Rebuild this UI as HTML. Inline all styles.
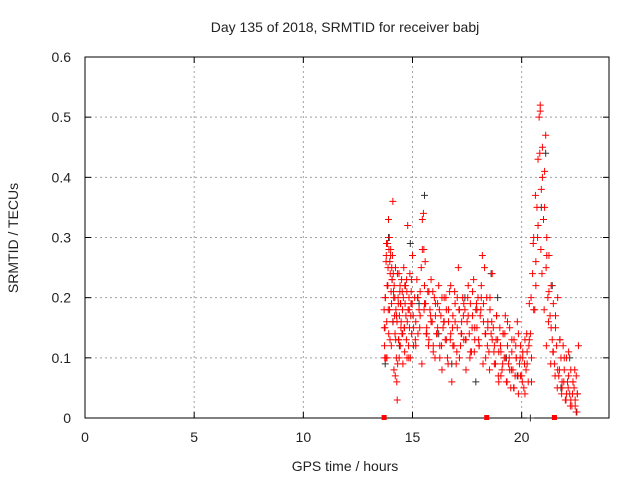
<!DOCTYPE html>
<html><head><meta charset="utf-8"><style>
body{margin:0;background:#fff}
svg text{font-family:"Liberation Sans",sans-serif;font-size:14px;fill:#222}
</style></head><body>
<svg id="c" width="640" height="480" xmlns="http://www.w3.org/2000/svg"></svg>
<script>
const xTicks=[0,5,10,15,20];
const yTicks=[0,0.1,0.2,0.3,0.4,0.5,0.6];
const yTickLabels=["0","0.1","0.2","0.3","0.4","0.5","0.6"];
const redPtsA=[[13.7,0.18],[13.72,0.12],[13.74,0.15],[13.76,0.2],[13.78,0.1],[13.8,0.27],[13.82,0.16],[13.84,0.22],[13.86,0.29],[13.88,0.25],[13.9,0.33],[13.92,0.28],[13.94,0.3],[13.96,0.26],[13.98,0.24],[14.0,0.28],[14.02,0.21],[14.04,0.19],[14.06,0.23],[14.08,0.27],[14.1,0.36],[14.12,0.24],[14.14,0.2],[14.16,0.22],[14.18,0.17],[14.2,0.14],[14.22,0.25],[14.24,0.18],[14.26,0.1],[14.28,0.06],[14.3,0.03],[14.32,0.09],[14.34,0.2],[14.36,0.13],[14.38,0.24],[14.4,0.17],[14.42,0.21],[14.44,0.12],[14.46,0.19],[14.48,0.16],[14.5,0.23],[14.52,0.14],[14.54,0.18],[14.56,0.09],[14.58,0.2],[14.6,0.25],[14.62,0.15],[14.64,0.11],[14.66,0.19],[14.68,0.22],[14.7,0.17],[14.72,0.13],[14.74,0.21],[14.76,0.16],[14.78,0.32],[14.8,0.18],[14.82,0.12],[14.84,0.2],[14.86,0.15],[14.88,0.24],[14.9,0.1],[14.92,0.17],[14.94,0.21],[14.96,0.14],[14.98,0.19],[15.0,0.27],[15.05,0.12],[15.1,0.2],[15.15,0.16],[15.2,0.23],[15.25,0.14],[15.3,0.18],[15.35,0.21],[15.4,0.25],[15.45,0.33],[15.5,0.34],[15.52,0.28],[15.55,0.22],[15.58,0.26],[15.6,0.19],[15.65,0.15],[15.7,0.21],[15.75,0.13],[15.8,0.18],[15.85,0.23],[15.9,0.16],[15.95,0.11],[16.0,0.2],[16.05,0.17],[16.1,0.14],[16.15,0.19],[16.2,0.22],[16.25,0.12],[16.3,0.17],[16.35,0.08],[16.4,0.15],[16.45,0.2],[16.5,0.13],[16.55,0.18],[16.6,0.1],[16.65,0.16],[16.7,0.21],[16.75,0.14],[16.8,0.06],[16.85,0.17],[16.9,0.12],[16.95,0.19],[17.0,0.09],[17.05,0.15],[17.1,0.25],[17.15,0.18],[17.2,0.12],[17.25,0.16],[17.3,0.2],[17.35,0.13],[17.4,0.18],[17.45,0.08],[17.5,0.16],[17.55,0.22],[17.6,0.14],[17.65,0.19],[17.7,0.11],[17.75,0.17],[17.8,0.23],[17.85,0.13],[17.9,0.18],[17.95,0.15],[18.0,0.2],[18.05,0.12],[18.1,0.17],[18.15,0.22],[18.2,0.27],[18.25,0.19],[18.3,0.25],[18.35,0.14],[18.4,0.2],[18.45,0.16],[18.5,0.11]];
const redPtsB=[[18.55,0.18],[18.6,0.14],[18.65,0.24],[18.7,0.15],[18.75,0.12],[18.8,0.09],[18.85,0.17],[18.9,0.13],[18.95,0.06],[19.0,0.15],[19.05,0.11],[19.1,0.08],[19.15,0.14],[19.2,0.1],[19.25,0.17],[19.3,0.06],[19.35,0.12],[19.4,0.09],[19.45,0.15],[19.5,0.05],[19.55,0.11],[19.6,0.08],[19.65,0.13],[19.7,0.07],[19.75,0.1],[19.8,0.16],[19.85,0.04],[19.9,0.09],[19.95,0.12],[20.0,0.07],[20.05,0.1],[20.1,0.05],[20.15,0.13],[20.2,0.08],[20.25,0.11],[20.3,0.06],[20.35,0.19],[20.4,0.14],[20.45,0.1],[20.5,0.24],[20.55,0.3],[20.6,0.18],[20.65,0.22],[20.7,0.35],[20.75,0.43],[20.8,0.5],[20.85,0.52],[20.88,0.28],[20.9,0.38],[20.95,0.45],[21.0,0.33],[21.05,0.41],[21.1,0.47],[21.12,0.25],[21.15,0.3],[21.2,0.2],[21.25,0.27],[21.3,0.17],[21.35,0.22],[21.4,0.13],[21.45,0.19],[21.5,0.09],[21.55,0.15],[21.6,0.12],[21.65,0.2],[21.7,0.07],[21.75,0.13],[21.8,0.1],[21.85,0.05],[21.9,0.12],[21.95,0.08],[22.0,0.03],[22.05,0.1],[22.1,0.06],[22.15,0.11],[22.2,0.04],[22.25,0.08],[22.3,0.02],[22.35,0.06],[22.4,0.05],[22.45,0.03],[22.5,0.07],[22.55,0.04],[22.6,0.12]];
const redPtsC=[[13.71,0.15],[13.75,0.2],[13.79,0.26],[13.83,0.1],[13.87,0.22],[13.91,0.14],[13.95,0.18],[13.99,0.27],[14.03,0.12],[14.07,0.23],[14.11,0.16],[14.15,0.08],[14.19,0.2],[14.23,0.13],[14.27,0.17],[14.31,0.24],[14.35,0.19],[14.39,0.1],[14.43,0.22],[14.47,0.15],[14.55,0.14],[14.65,0.22],[14.75,0.1],[14.85,0.18],[14.95,0.23],[15.05,0.15],[15.15,0.12],[15.25,0.2],[15.35,0.17],[15.45,0.28],[15.55,0.19],[15.65,0.14],[15.75,0.21],[15.85,0.16],[15.95,0.12],[16.05,0.19],[16.15,0.15],[16.25,0.1],[16.35,0.2],[16.45,0.16],[16.55,0.13],[16.65,0.18],[16.75,0.22],[16.85,0.12],[16.95,0.16],[17.05,0.2],[17.15,0.1],[17.25,0.14],[17.35,0.19],[17.45,0.13],[17.55,0.17],[17.65,0.11],[17.75,0.21],[17.85,0.15],[17.95,0.18],[18.05,0.12],[18.15,0.2],[18.25,0.16],[18.35,0.1],[18.45,0.15],[18.55,0.2],[18.65,0.13],[18.75,0.09],[18.85,0.17],[18.95,0.11],[19.05,0.07],[19.15,0.14],[19.25,0.1],[19.35,0.16],[19.45,0.08],[19.55,0.13],[19.65,0.05],[19.75,0.1],[19.85,0.14],[19.95,0.07],[20.05,0.11],[20.15,0.04],[20.25,0.09],[20.35,0.13],[20.45,0.06],[20.55,0.18],[20.65,0.26],[20.75,0.32],[20.85,0.51],[20.95,0.4],[21.05,0.35],[21.15,0.27],[21.25,0.21],[21.35,0.15],[21.45,0.11],[21.55,0.17],[21.65,0.08],[21.75,0.13],[21.85,0.06],[21.95,0.1],[22.05,0.04],[22.15,0.07],[22.25,0.03],[22.35,0.06],[22.45,0.02],[22.55,0.04]];
const redPtsD=[[13.73,0.1],[13.81,0.29],[13.89,0.18],[13.97,0.13],[14.05,0.25],[14.13,0.21],[14.21,0.07],[14.29,0.16],[14.37,0.13],[14.45,0.19],[14.53,0.21],[14.63,0.15],[14.73,0.23],[14.83,0.1],[14.93,0.19],[15.03,0.17],[15.13,0.13],[15.23,0.2],[15.33,0.15],[15.43,0.09],[15.53,0.18],[15.63,0.14],[15.73,0.12],[15.83,0.17],[15.93,0.21],[16.03,0.1],[16.13,0.14],[16.23,0.18],[16.33,0.12],[16.43,0.16],[16.53,0.2],[16.63,0.09],[16.73,0.13],[16.83,0.15],[16.93,0.21],[17.03,0.11],[17.13,0.18],[17.23,0.14],[17.33,0.17],[17.43,0.13],[17.53,0.2],[17.63,0.1],[17.73,0.15],[17.83,0.11],[17.93,0.19],[18.03,0.13],[18.13,0.18],[18.23,0.09],[18.33,0.14],[18.43,0.12],[18.53,0.08],[18.63,0.16],[18.73,0.11],[18.83,0.13],[18.93,0.07],[19.03,0.12],[19.13,0.09],[19.23,0.14],[19.33,0.06],[19.43,0.1],[19.53,0.08],[19.63,0.05],[19.73,0.12],[19.83,0.07],[19.93,0.1],[20.03,0.06],[20.13,0.09],[20.23,0.14],[20.33,0.12],[20.43,0.2],[20.53,0.29],[20.63,0.37],[20.73,0.3],[20.83,0.44],[20.93,0.24],[21.03,0.18],[21.13,0.12],[21.23,0.16],[21.33,0.09],[21.43,0.11],[21.53,0.07],[21.63,0.05],[21.73,0.08],[21.83,0.04],[21.93,0.06],[22.03,0.03],[22.13,0.05],[22.23,0.02],[22.33,0.04],[22.43,0.08],[22.53,0.01]];
const blackPts=[[13.75,0.09],[13.9,0.3],[14.1,0.16],[14.4,0.12],[14.9,0.29],[15.3,0.19],[15.55,0.37],[16.2,0.14],[16.8,0.09],[17.4,0.2],[17.9,0.06],[18.6,0.24],[18.9,0.2],[19.3,0.1],[19.8,0.07],[20.4,0.0],[20.9,0.35],[21.1,0.44],[21.4,0.22],[21.8,0.05],[22.2,0.1],[22.5,0.01]];
const zeroMarks=[13.7,18.4,21.5];
const svg=document.getElementById('c');
const NS='http://www.w3.org/2000/svg';
const X0=85,X1=609,Y0=418,Y1=57;
const xs=t=>X0+(t/24)*(X1-X0);
const ys=v=>Y0-(v/0.6)*(Y0-Y1);
function mk(tag,a){const e=document.createElementNS(NS,tag);for(const k in a)e.setAttribute(k,a[k]);svg.appendChild(e);return e;}
xTicks.forEach(t=>{if(t>0){const g=mk('line',{x1:xs(t),x2:xs(t),y1:Y0,y2:Y1,stroke:'#a0a0a0','stroke-dasharray':'2,3'});

}});
yTicks.forEach(v=>{if(v>0&&v<0.6){const g=mk('line',{x1:X0,x2:X1,y1:ys(v),y2:ys(v),stroke:'#a0a0a0','stroke-dasharray':'2,3'});

}});
const fr=mk('rect',{x:X0,y:Y1,width:X1-X0,height:Y0-Y1,fill:'none',stroke:'#000'});


xTicks.forEach(t=>{mk('line',{x1:xs(t),x2:xs(t),y1:Y0,y2:Y0-6,stroke:'#000'});mk('line',{x1:xs(t),x2:xs(t),y1:Y1,y2:Y1+6,stroke:'#000'});
const l=mk('text',{x:xs(t),y:Y0+24,'text-anchor':'middle'});l.textContent=t;

});
yTicks.forEach((v,i)=>{mk('line',{x1:X0,x2:X0+6,y1:ys(v),y2:ys(v),stroke:'#000'});mk('line',{x1:X1,x2:X1-6,y1:ys(v),y2:ys(v),stroke:'#000'});
const l=mk('text',{x:X0-14,y:ys(v)+5,'text-anchor':'end'});l.textContent=yTickLabels[i];

});
function plus(t,v,c,name){const x=xs(t),y=ys(v);const p=mk('path',{d:`M${x-3.5},${y}h7M${x},${y-3.5}v7`,stroke:c,'stroke-width':1,fill:'none'});

}
blackPts.forEach(p=>plus(p[0],p[1],'#333','black-point'));
[redPtsA,redPtsB,redPtsC,redPtsD].forEach(arr=>arr.forEach(p=>plus(p[0],p[1],'#f00','red-point')));
zeroMarks.forEach(t=>{const r=mk('rect',{x:xs(t)-2.5,y:Y0-3,width:5,height:5,fill:'#f00'});

});
const ti=mk('text',{x:345,y:32,'text-anchor':'middle'});ti.textContent='Day 135 of 2018, SRMTID for receiver babj';


const xt=mk('text',{x:345,y:471,'text-anchor':'middle'});xt.textContent='GPS time / hours';


const yt=mk('text',{x:18,y:238,'text-anchor':'middle',transform:'rotate(-90 18 238)'});yt.textContent='SRMTID / TECUs';


</script>
</body></html>
